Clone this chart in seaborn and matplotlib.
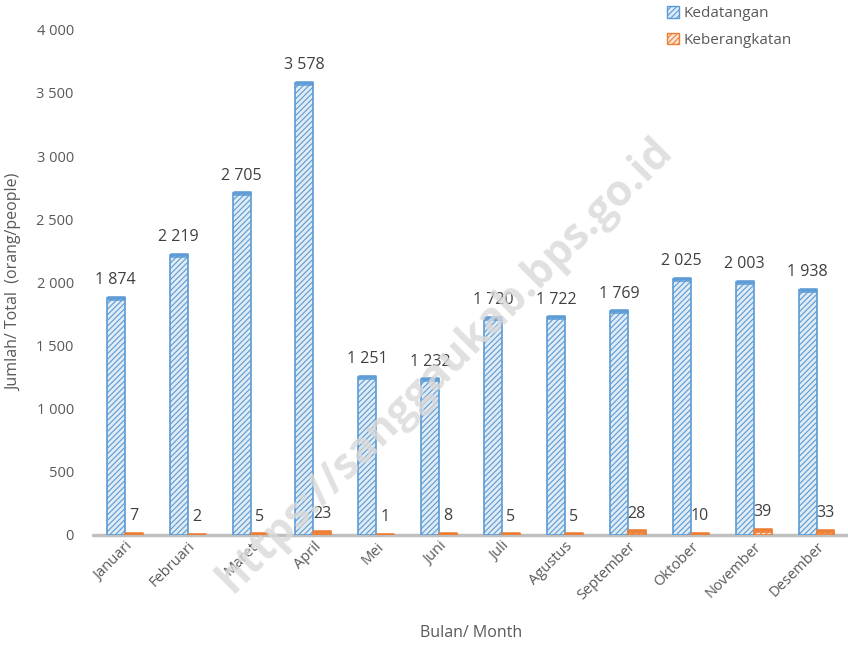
import pandas as pd
import matplotlib.pyplot as plt
import seaborn as sns
from matplotlib.patches import Patch

# data
bulan = ['Januari', 'Februari', 'Maret', 'April', 'Mei', 'Juni', 'Juli',
         'Agustus', 'September', 'Oktober', 'November', 'Desember']
kedatangan = [1874, 2219, 2705, 3578, 1251, 1232, 1720, 1722, 1769, 2025, 2003, 1938]
keberangkatan = [7, 2, 5, 23, 1, 8, 5, 5, 28, 10, 39, 33]
seri = ['Kedatangan', 'Keberangkatan']

df = pd.DataFrame({
    'bulan': bulan * 2,
    'jumlah': kedatangan + keberangkatan,
    'seri': [seri[0]] * len(bulan) + [seri[1]] * len(bulan),
})

sns.set_style('white')
plt.rcParams['font.family'] = ['Open Sans', 'DejaVu Sans']
plt.rcParams['hatch.linewidth'] = 0.8
teks = '#595959'

fig = plt.figure(figsize=(8.48, 6.46), dpi=100)
ax = fig.add_axes([0.11, 0.172, 0.89, 0.782])

sns.barplot(data=df, x='bulan', y='jumlah', hue='seri', width=0.57,
            palette=['#DDEBF7', '#FBE5D6'], ax=ax, legend=False)

tepi = ['#5B9BD5', '#ED7D31']
for cont, ec in zip(ax.containers, tepi):
    for bar in cont:
        bar.set_edgecolor(ec)
        bar.set_hatch('//////')
        bar.set_linewidth(1.2)
        # tutup atas (efek 3D)
        ax.hlines(bar.get_height(), bar.get_x(), bar.get_x() + bar.get_width(),
                  color=ec, lw=3.5, alpha=0.85, zorder=3)
    ax.bar_label(cont, labels=[f'{v:,.0f}'.replace(',', ' ') for v in cont.datavalues],
                 padding=7, fontsize=11.5, color='#404040')

ax.set_ylim(0, 4000)
ax.set_xlim(-0.5, 11.5)
ax.set_yticks(range(0, 4001, 500))
ax.set_yticklabels([f'{v:,}'.replace(',', ' ') for v in range(0, 4001, 500)],
                   fontsize=10.5, color=teks)
ax.tick_params(axis='y', length=0, pad=14)
ax.tick_params(axis='x', length=0, pad=3)
plt.setp(ax.get_xticklabels(), rotation=45, ha='right', rotation_mode='anchor',
         fontsize=10.5, color=teks)
for s in ax.spines.values():
    s.set_visible(False)
ax.axhline(0, color='#BFBFBF', lw=2.5, zorder=0.5, clip_on=False)

ax.set_xlabel('Bulan/ Month', fontsize=11.5, color=teks, labelpad=16)
ax.set_ylabel('Jumlah/ Total  (orang/people)', fontsize=11.5, color=teks, labelpad=10)

handles = [Patch(facecolor=f, edgecolor=e, hatch='//////')
           for f, e in zip(['#DDEBF7', '#FBE5D6'], tepi)]
fig.legend(handles, seri, loc='upper left', bbox_to_anchor=(0.77, 1.012),
           frameon=False, fontsize=11, labelcolor=teks, handlelength=0.8,
           handleheight=0.8, handletextpad=0.3, labelspacing=0.75)

# watermark
fig.text(0.525, 0.435, 'https://sanggaukab.bps.go.id', rotation=45,
         fontsize=31, fontweight='bold', color='#D9D9D9', alpha=0.8,
         ha='center', va='center', zorder=0)

fig.savefig('out.png', dpi=100)
